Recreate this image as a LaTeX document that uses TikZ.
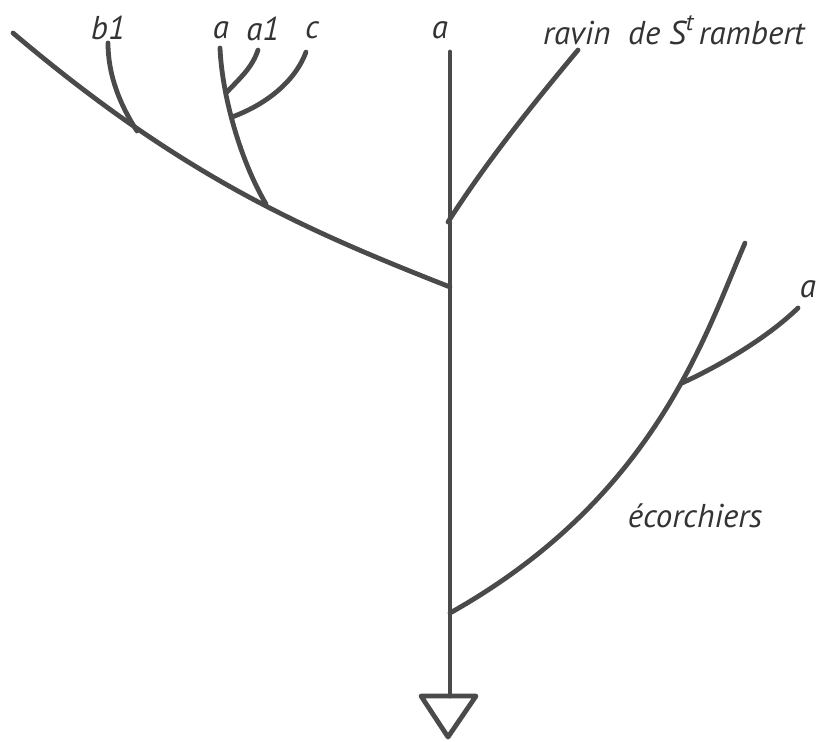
\documentclass[tikz,border=0pt]{standalone}
\usepackage{fontspec}
\setmainfont{PT Sans}
\usepackage{tikz}
\usetikzlibrary{positioning, calc}
\definecolor{inkgray}{HTML}{4A4A4A}
\definecolor{textgray}{HTML}{333333}

\begin{document}
\begin{tikzpicture}[x=1pt, y=-1pt,
    stream/.style={draw=inkgray, line width=4.8pt, line cap=round, line join=round},
    streamlabel/.style={text=textgray, font=\fontsize{33}{33}\selectfont\itshape, inner sep=0pt}]
\useasboundingbox (0,0) rectangle (826,741);
\coordinate (stemtop) at (450,52);
\coordinate (stembot) at (450,696);
\coordinate (leftend) at (13,33);
\coordinate (leftjoin) at (450,287);
\coordinate (bjoin) at (137,131);
\coordinate (bend) at (108,43);
\coordinate (ajoin) at (266,204);
\coordinate (aend) at (220,48);
\coordinate (aoneend) at (258,50);
\coordinate (aonejoin) at (227,92);
\coordinate (cend) at (306,52);
\coordinate (cjoin) at (232,117);
\coordinate (ravinjoin) at (448,222);
\coordinate (ravinend) at (578,50);
\coordinate (ecjoin) at (450,613);
\coordinate (ecend) at (745,243);
\coordinate (ecfork) at (682,383);
\coordinate (ecaend) at (798,308);
\draw[stream] (stemtop) -- (stembot);
\draw[stream] (leftend) .. controls (183,177) and (305,230) .. (leftjoin);
\draw[stream] (bend) .. controls (108,75) and (120,105) .. (bjoin);
\draw[stream] (aend) .. controls (222,95) and (240,160) .. (ajoin);
\draw[stream] (aoneend) .. controls (252,68) and (240,78) .. (aonejoin);
\draw[stream] (cend) .. controls (295,82) and (265,105) .. (cjoin);
\draw[stream] (ravinjoin) .. controls (487,161) and (533,104) .. (ravinend);
\draw[stream] (ecjoin) .. controls (655,498) and (705,335) .. (ecend);
\draw[stream] (ecfork) .. controls (715,368) and (765,340) .. (ecaend);
\draw[stream] (421,696) -- (476,696) -- (448,737) -- cycle;
\node[streamlabel] (lblbone) at (108,28) {b1};
\node[streamlabel] (lbla) at (221,30) {a};
\node[streamlabel] (lblaone) at (263,29) {a1};
\node[streamlabel] (lblc) at (312,30) {c};
\node[streamlabel] (lblmain) at (440,30) {a};
\node[streamlabel, anchor=west] (lblravin) at (543,30)
  {ravin~~de S\raisebox{0.42em}{\fontsize{24}{24}\selectfont t}\,rambert};
\node[streamlabel] (lblra) at (808,289) {a};
\node[streamlabel] (lblecor) at (695,516) {écorchiers};
\end{tikzpicture}
\end{document}
